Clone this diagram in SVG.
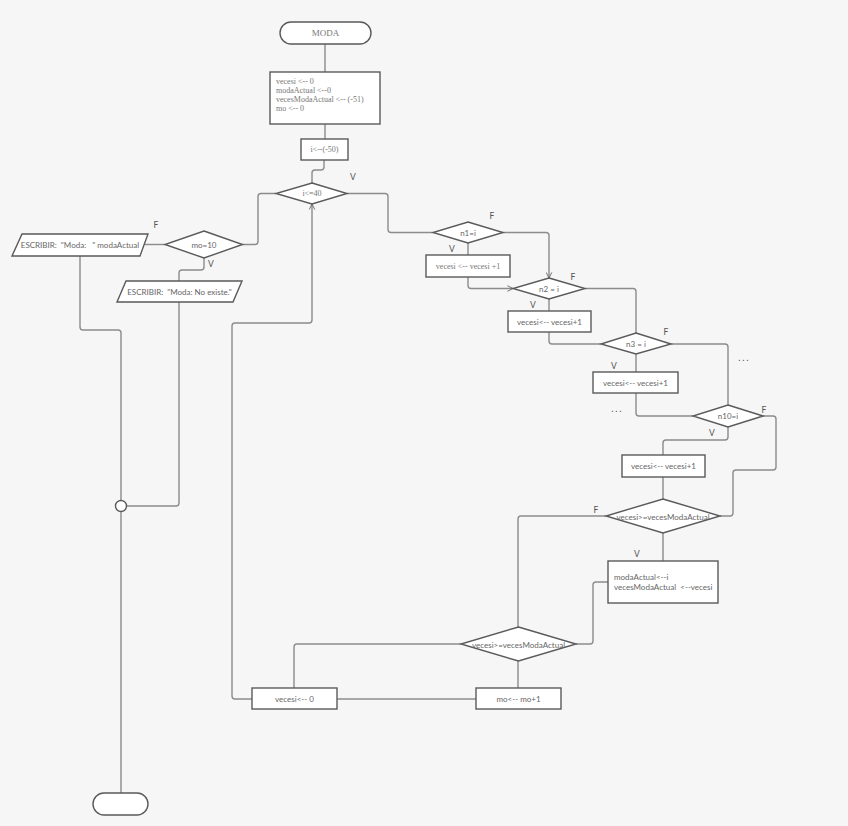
<svg xmlns="http://www.w3.org/2000/svg" width="848" height="826" viewBox="0 0 848 826">
<defs>
<style>
.n{fill:#fff;stroke:#5a5a5a;stroke-width:1.4}
.c{fill:none;stroke:#8c8c8c;stroke-width:1.4}
.s{font-family:Lato,"Liberation Sans",sans-serif;font-size:8px;fill:#666;white-space:pre}
.r{font-family:"Liberation Serif",serif;font-size:8px;fill:#777;white-space:pre}
.l{font-family:Lato,"Liberation Sans",sans-serif;font-size:8.5px;fill:#555}
.d{font-family:"Liberation Sans",sans-serif;font-size:10px;fill:#555;letter-spacing:1.2px}
.m{text-anchor:middle;dominant-baseline:central}
</style>
<marker id="ah" viewBox="0 0 10 10" refX="9" refY="5" markerWidth="7" markerHeight="7" orient="auto" markerUnits="userSpaceOnUse">
<path d="M1,1 L9,5 L1,9" fill="none" stroke="#666" stroke-width="1.3"/>
</marker>
</defs>
<rect width="848" height="826" fill="#f6f6f6"/>
<g id="connectors">
<path class="c" d="M325,44 V72"/>
<path class="c" d="M325,124 V139"/>
<path class="c" d="M324,160 V167 Q324,170 321,170 H315 Q312,170 312,173 V183"/>
<path class="c" d="M347,193.5 H385 Q388,193.5 388,196.5 V229.5 Q388,232.5 391,232.5 H433"/>
<path class="c" d="M276,193.5 H261 Q258,193.5 258,196.5 V241.5 Q258,244.5 255,244.5 H242.5"/>
<path class="c" d="M165,244.5 H145"/>
<path class="c" d="M80,256 V327 Q80,330 83,330 H118 Q121,330 121,333 V500.5"/>
<path class="c" d="M204,258 V267 Q204,270 201,270 H182 Q179,270 179,273 V281"/>
<path class="c" d="M179,302 V503 Q179,506 176,506 H126.5"/>
<path class="c" d="M121,511.5 V793"/>
<path class="c" d="M503,232.5 H546 Q549,232.5 549,235.5 V278" marker-end="url(#ah)"/>
<path class="c" d="M468,243 V255"/>
<path class="c" d="M468,277 V285.5 Q468,288.5 471,288.5 H513" marker-end="url(#ah)"/>
<path class="c" d="M585,288.5 H633 Q636,288.5 636,291.5 V333"/>
<path class="c" d="M549,299 V311"/>
<path class="c" d="M549,332 V341 Q549,344 552,344 H601"/>
<path class="c" d="M671,344 H725 Q728,344 728,347 V405"/>
<path class="c" d="M636,354 V372"/>
<path class="c" d="M636,393 V413 Q636,416 639,416 H693"/>
<path class="c" d="M763,416 H773 Q776,416 776,419 V467 Q776,470 773,470 H736 Q733,470 733,473 V513 Q733,516 730,516 H720"/>
<path class="c" d="M728,427 V437 Q728,440 725,440 H666 Q663,440 663,443 V455"/>
<path class="c" d="M663,477 V499"/>
<path class="c" d="M606,516 H521 Q518,516 518,519 V627"/>
<path class="c" d="M663,533 V561"/>
<path class="c" d="M608,582 H596 Q593,582 593,585 V641 Q593,644 590,644 H576"/>
<path class="c" d="M461,644 H297 Q294,644 294,647 V688"/>
<path class="c" d="M518,661 V688"/>
<path class="c" d="M476,699 H337"/>
<path class="c" d="M252,699 H235 Q232,699 232,696 V326 Q232,323 235,323 H309 Q312,323 312,320 V204" marker-end="url(#ah)"/>
<text class="l m" x="353" y="177">V</text>
<text class="l m" x="156" y="225">F</text>
<text class="l m" x="211" y="264">V</text>
<text class="l m" x="492" y="216">F</text>
<text class="l m" x="452" y="249">V</text>
<text class="l m" x="573" y="277">F</text>
<text class="l m" x="533" y="305">V</text>
<text class="l m" x="666" y="332">F</text>
<text class="l m" x="614" y="366">V</text>
<text class="l m" x="764" y="410">F</text>
<text class="l m" x="712" y="433">V</text>
<text class="l m" x="596" y="510">F</text>
<text class="l m" x="637" y="554">V</text>
<text class="d" x="738" y="361">...</text>
<text class="d" x="611" y="412">...</text>
</g>
<g id="start">
<rect class="n" x="280" y="22" width="91" height="22" rx="11"/>
<text class="r m" x="325.5" y="33" style="font-size:9px">MODA</text>
</g>
<g id="init">
<rect class="n" x="270" y="72" width="110" height="52"/>
<text class="r" x="276" y="84">vecesi &lt;-- 0</text>
<text class="r" x="276" y="93">modaActual &lt;--0</text>
<text class="r" x="276" y="102">vecesModaActual &lt;-- (-51)</text>
<text class="r" x="276" y="111">mo &lt;-- 0</text>
</g>
<g id="assign-i">
<rect class="n" x="301" y="139" width="47" height="21"/>
<text class="r m" x="324.5" y="149.5">i&lt;--(-50)</text>
</g>
<g id="cond-i">
<polygon class="n" points="312,183 347,193.5 312,204 276,193.5"/>
<text class="r m" x="312" y="193.5">i&lt;=40</text>
</g>
<g id="cond-mo">
<polygon class="n" points="204,231 242.5,244.5 204,258 165,244.5"/>
<text class="s m" x="204" y="244.5">mo=10</text>
</g>
<g id="out-moda">
<polygon class="n" points="22,234 148,234 140,256 12,256"/>
<text class="s m" x="80" y="245">ESCRIBIR:  "Moda:   " modaActual</text>
</g>
<g id="out-noexiste">
<polygon class="n" points="126,281 242,281 233,302 117,302"/>
<text class="s m" x="179.5" y="291.5">ESCRIBIR:  "Moda: No existe."</text>
</g>
<g id="join">
<circle class="n" cx="121" cy="506" r="5.5"/>
</g>
<g id="end">
<rect class="n" x="93" y="793" width="55" height="22" rx="11"/>
</g>
<g id="cond-n1">
<polygon class="n" points="468,222 503,232.5 468,243 433,232.5"/>
<text class="s m" x="468" y="232.5">n1=i</text>
</g>
<g id="inc1">
<rect class="n" x="426" y="255" width="84" height="22"/>
<text class="r m" x="468" y="266">vecesi &lt;-- vecesi +1</text>
</g>
<g id="cond-n2">
<polygon class="n" points="549,278 585,288.5 549,299 513,288.5"/>
<text class="s m" x="549" y="288.5">n2 = i</text>
</g>
<g id="inc2">
<rect class="n" x="508" y="311" width="83" height="21"/>
<text class="s m" x="549.5" y="321.5">vecesi&lt;-- vecesi+1</text>
</g>
<g id="cond-n3">
<polygon class="n" points="636,333 671,344 636,354 601,344"/>
<text class="s m" x="636" y="344">n3 = i</text>
</g>
<g id="inc3">
<rect class="n" x="593" y="372" width="85" height="21"/>
<text class="s m" x="635.5" y="382.5">vecesi&lt;-- vecesi+1</text>
</g>
<g id="cond-n10">
<polygon class="n" points="728,405 763,416 728,427 693,416"/>
<text class="s m" x="728" y="416">n10=i</text>
</g>
<g id="inc10">
<rect class="n" x="622" y="455" width="83" height="22"/>
<text class="s m" x="663.5" y="466">vecesi&lt;-- vecesi+1</text>
</g>
<g id="cond-max1">
<polygon class="n" points="663,499 720,516 663,533 606,516"/>
<text class="s m" x="663" y="516.5">vecesi&gt;=vecesModaActual</text>
</g>
<g id="update">
<rect class="n" x="608" y="561" width="110" height="42"/>
<text class="s" x="614" y="580">modaActual&lt;--i</text>
<text class="s" x="614" y="590">vecesModaActual  &lt;--vecesi</text>
</g>
<g id="cond-max2">
<polygon class="n" points="518.5,627 576,644 518.5,661 461,644"/>
<text class="s m" x="518.5" y="644.5">vecesi&gt;=vecesModaActual</text>
</g>
<g id="reset">
<rect class="n" x="252" y="688" width="85" height="21"/>
<text class="s m" x="294.5" y="698.5">vecesi&lt;-- 0</text>
</g>
<g id="inc-mo">
<rect class="n" x="476" y="688" width="85" height="21"/>
<text class="s m" x="518.5" y="698.5">mo&lt;-- mo+1</text>
</g>
</svg>
